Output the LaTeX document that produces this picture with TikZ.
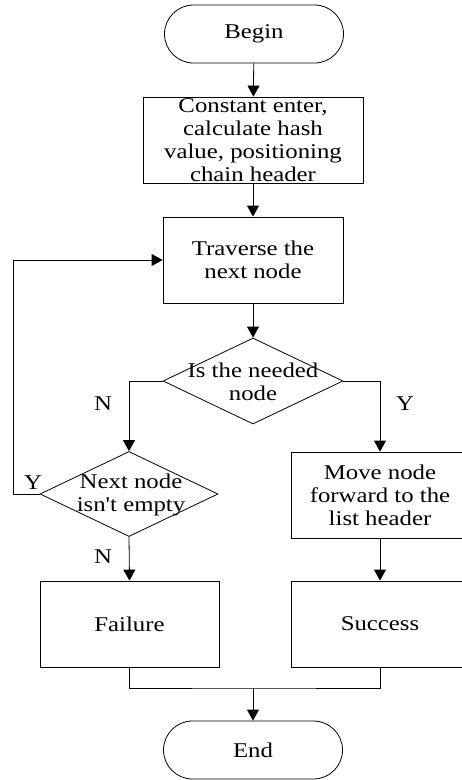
\documentclass[tikz,border=0pt]{standalone}
\usepackage{fontspec}
\setmainfont[FakeStretch=1.18,Ligatures=TeXOff]{Liberation Serif}
\usetikzlibrary{shapes.geometric,arrows.meta}
\begin{document}
\begin{tikzpicture}[x=1pt,y=-1pt,
  font=\fontsize{21}{23}\selectfont,
  line width=0.8pt,
  term/.style={draw, rectangle, rounded corners=29pt, minimum width=179pt, minimum height=58pt, inner sep=0pt},
  proc/.style={draw, rectangle, inner sep=0pt, align=center},
  dia/.style={draw, diamond, inner sep=0pt},
  txt/.style={align=center, inner sep=0pt},
  arr/.style={-{Triangle[width=12pt,length=11pt]}},
  lbl/.style={inner sep=0pt}
]
\useasboundingbox (0,0) rectangle (462,780);

\node[term] (begin) at (254,34) {Begin};
\node[proc, minimum width=220pt, minimum height=86pt] (calc) at (253,140) {Constant enter,\\calculate hash\\value, positioning\\chain header};
\node[proc, minimum width=180pt, minimum height=86pt] (trav) at (253,260) {Traverse the\\next node};
\node[dia, minimum width=180pt, minimum height=86pt] (need) at (253,381) {};
\node[txt] (needt) at (253,382) {Is the needed\\node};
\node[dia, minimum width=178pt, minimum height=85pt] (empty) at (129,494) {};
\node[txt] (emptyt) at (131,495) {Next node\\isn't empty};
\node[proc, minimum width=178pt, minimum height=86pt] (move) at (380,495) {Move node\\forward to the\\list header};
\node[proc, minimum width=179pt, minimum height=86pt] (fail) at (129.5,624) {Failure};
\node[proc, minimum width=178pt, minimum height=86pt] (succ) at (380,624) {Success};
\node[term] (end) at (253,750) {End};

\coordinate (loopL) at (13,494);
\coordinate (join) at (253,688);

\draw[arr] (begin) -- (calc);
\draw[arr] (calc) -- (trav);
\draw[arr] (trav) -- (need);
\draw[arr] (need.west) -| (empty.north);
\draw[arr] (need.east) -| (move.north);
\draw[arr] (empty.west) -- (loopL) |- (trav.west);
\draw[arr] (empty.south) -- (fail.north);
\draw[arr] (move.south) -- (succ.north);
\draw (fail.south) |- (join) -| (succ.south);
\draw[arr] (join) -- (end);

\node[lbl] (n1) at (103,404) {N};
\node[lbl] (y1) at (405,404) {Y};
\node[lbl] (y2) at (33,483) {Y};
\node[lbl] (n2) at (103,557) {N};
\end{tikzpicture}
\end{document}
